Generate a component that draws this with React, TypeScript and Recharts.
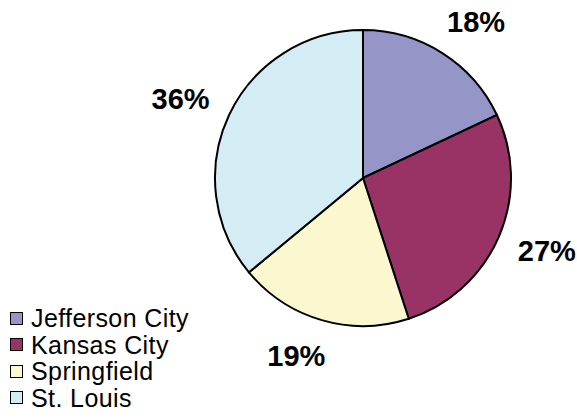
import { Legend, Pie, PieChart, Cell } from "recharts";

// city shares, clockwise from 12 o'clock
const CITIES = ["Jefferson City", "Kansas City", "Springfield", "St. Louis"];
const SHARES = [18, 27, 19, 36];
const FILLS = ["#9595C8", "#993366", "#FBF8D0", "#D4ECF3"];

const data = CITIES.map((name, i) => ({ name, value: SHARES[i] }));

const RAD = Math.PI / 180;

const renderLabel = ({ cx, cy, midAngle, outerRadius, percent }: any) => {
  const r = outerRadius + 37;
  const sx = Math.cos(-midAngle * RAD);
  const sy = Math.sin(-midAngle * RAD);
  const x = cx + r * sx + (sx >= 0 ? 14 : -15);
  const y = cy + r * sy;
  return (
    <text
      x={x}
      y={y}
      textAnchor="middle"
      dominantBaseline="central"
      fontFamily="'Liberation Sans', Arial, sans-serif"
      fontWeight="bold"
      fontSize={29}
      fill="#000"
    >
      {`${Math.round(percent * 100)}%`}
    </text>
  );
};

const LegendBox = ({ payload }: any) => (
  <div style={{ fontFamily: "'Liberation Sans', Arial, sans-serif", fontSize: 25, color: "#000" }}>
    {(payload || []).map((p: any, i: number) => (
      <div key={i} style={{ display: "flex", alignItems: "center", height: 26.5 }}>
        <span
          style={{
            display: "inline-block",
            width: 11,
            height: 11,
            background: p.color,
            border: "1.5px solid #000",
            marginRight: 8,
          }}
        />
        <span style={{ lineHeight: "26px", letterSpacing: 0.4 }}>{p.value}</span>
      </div>
    ))}
  </div>
);

export default function App() {
  return (
    <div style={{ position: "absolute", left: 0, top: 0, width: 577, height: 418, background: "#fff" }}>
      <PieChart width={577} height={418} margin={{ top: 0, right: 0, bottom: 0, left: 0 }}>
        <Pie
          data={data}
          dataKey="value"
          nameKey="name"
          cx={363}
          cy={178}
          outerRadius={148}
          startAngle={90}
          endAngle={-270}
          stroke="#000"
          strokeWidth={2}
          label={renderLabel}
          labelLine={false}
          isAnimationActive={false}
        >
          {data.map((d, i) => (
            <Cell key={d.name} fill={FILLS[i]} />
          ))}
        </Pie>
        <Legend
          layout="horizontal"
          align="left"
          verticalAlign="bottom"
          content={<LegendBox />}
          wrapperStyle={{ left: 10, top: 305, bottom: "auto", width: 220 }}
        />
      </PieChart>
    </div>
  );
}
